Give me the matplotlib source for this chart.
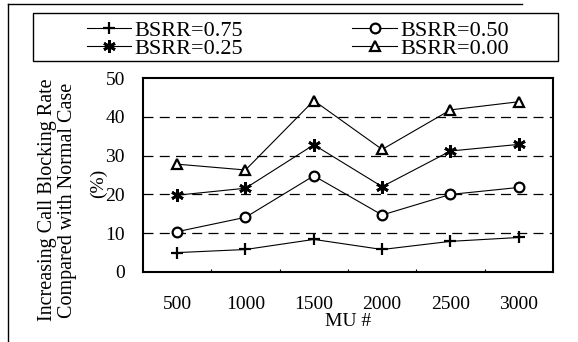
import matplotlib
matplotlib.use("Agg")
import matplotlib.pyplot as plt
from matplotlib.lines import Line2D
from matplotlib.patches import Rectangle

plt.rcParams['font.family'] = ['Liberation Serif', 'DejaVu Serif']

mu_labels = ['500', '1000', '1500', '2000', '2500', '3000']
bsrr_075 = [5.0, 5.8, 8.4, 5.8, 7.9, 8.9]
bsrr_050 = [10.4, 14.1, 24.8, 14.7, 20.0, 21.8]
bsrr_025 = [19.8, 21.6, 32.8, 22.0, 31.2, 32.9]
bsrr_000 = [27.8, 26.3, 44.2, 31.6, 41.8, 43.9]

fig = plt.figure(figsize=(5.78, 3.42), dpi=100)
ax = fig.add_axes([0.2474, 0.2047, 0.7093, 0.567])

x = range(len(mu_labels))
l1, = ax.plot(x, bsrr_075, color='black', lw=0.8, marker='+', ms=8, mew=1.6, label='BSRR=0.75')
l2, = ax.plot(x, bsrr_050, color='black', lw=0.8, marker='o', ms=7, mew=1.6, mfc='white', label='BSRR=0.50')
l3, = ax.plot(x, bsrr_025, color='black', lw=0.8, marker=(6, 2, 0), ms=9, mew=2.0, label='BSRR=0.25')
l4, = ax.plot(x, bsrr_000, color='black', lw=0.8, marker='^', ms=7, mew=1.6, mfc='white', label='BSRR=0.00')

ax.set_xlim(-0.5, 5.5)
ax.set_ylim(0, 50)
ax.set_yticks([0, 10, 20, 30, 40, 50])
ax.set_xticks(list(x))
ax.set_xticklabels(mu_labels)
ax.set_xticks([0.5, 1.5, 2.5, 3.5, 4.5], minor=True)
ax.tick_params(axis='both', which='major', length=0, labelsize=14)
ax.tick_params(axis='y', pad=13)
ax.tick_params(axis='x', pad=17)
ax.tick_params(axis='x', which='minor', direction='in', length=2, width=0.8)
for t in [10, 20, 30, 40]:
    ax.axhline(t, color='black', ls=(0, (8, 5)), lw=0.9, zorder=0)
for s in ax.spines.values():
    s.set_linewidth(1.5)

ax.set_xlabel('MU #', fontsize=14, labelpad=0)

fig.text(0.100, 0.415, 'Increasing Call Blocking Rate\nCompared with Normal Case',
         rotation=90, ha='center', va='center', fontsize=14.5, linespacing=1.05)
fig.text(0.170, 0.465, '(%)', rotation=90, ha='center', va='center', fontsize=14)

# legend box
fig.add_artist(Rectangle((33/578, 1 - 61/342), 525/578, 48/342, transform=fig.transFigure,
                         fill=False, edgecolor='black', lw=1.0))
leg = fig.legend([l1, l3, l2, l4], ['BSRR=0.75', 'BSRR=0.25', 'BSRR=0.50', 'BSRR=0.00'],
                 ncol=2, loc='upper left', bbox_to_anchor=(87/578, 1 - 20/342),
                 frameon=False, fontsize=16, handlelength=2.0, handletextpad=0.15,
                 labelspacing=-0.1, columnspacing=4.9, borderaxespad=0, borderpad=0)

# outer frame (left and top edges of the scanned figure)
fig.add_artist(Line2D([8/578, 8/578], [0, 1 - 4/342], color='black', lw=1.0))
fig.add_artist(Line2D([8/578, 522/578], [1 - 4/342, 1 - 4/342], color='black', lw=1.0))

fig.savefig('out.png', dpi=100)
